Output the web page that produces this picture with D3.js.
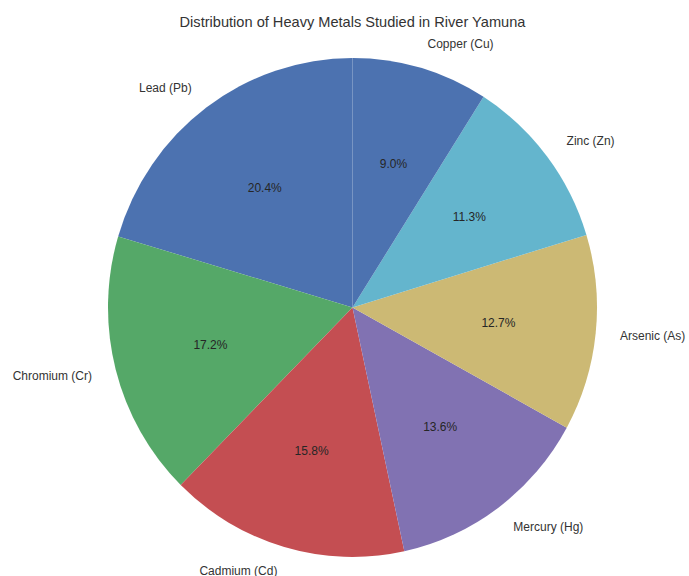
<!DOCTYPE html>
<html>
<head>
<meta charset="utf-8">
<script src="https://cdn.jsdelivr.net/npm/d3@7"></script>
<style>
  html, body { margin: 0; padding: 0; background: #fff; }
  svg { display: block; font-family: "Liberation Sans", Arial, sans-serif; }
</style>
</head>
<body>
<svg id="chart" width="689" height="576"></svg>
<script>
// Heavy metals share (%), in drawing order (counter-clockwise from 12 o'clock)
const metals = ["Lead (Pb)", "Chromium (Cr)", "Cadmium (Cd)", "Mercury (Hg)", "Arsenic (As)", "Zinc (Zn)", "Copper (Cu)"];
const shares = [20.4, 17.2, 15.8, 13.6, 12.7, 11.3, 9.0];
const palette = ["#4C72B0", "#55A868", "#C44E52", "#8172B2", "#CCB974", "#64B5CD", "#4C72B0"];
const chartTitle = "Distribution of Heavy Metals Studied in River Yamuna";

const svg = d3.select("#chart");
const cx = 352.5, cy = 307.5;
const rx = 244.5, ry = 249.5;

svg.append("text")
  .attr("x", 352.5).attr("y", 21.5)
  .attr("text-anchor", "middle")
  .attr("dominant-baseline", "central")
  .attr("font-size", 14.6)
  .attr("fill", "#333")
  .text(chartTitle);

const data = metals.map((m, i) => ({ name: m, value: shares[i], color: palette[i] }));

// Counter-clockwise pie starting at the top
const pie = d3.pie().value(d => d.value).sort(null).startAngle(0).endAngle(-2 * Math.PI);
const arcs = pie(data);
const arc = d3.arc().innerRadius(0).outerRadius(rx);

const g = svg.append("g")
  .attr("transform", `translate(${cx},${cy}) scale(1,${ry / rx})`);

g.selectAll("path")
  .data(arcs)
  .join("path")
  .attr("d", arc)
  .attr("fill", d => d.data.color);

function pos(d, k) {
  const a = (d.startAngle + d.endAngle) / 2;
  return [cx + Math.sin(a) * rx * k, cy - Math.cos(a) * ry * k];
}

// Category labels outside the wedges
svg.selectAll("text.lbl")
  .data(arcs)
  .join("text")
  .attr("class", "lbl")
  .attr("x", d => pos(d, 1.1)[0])
  .attr("y", d => pos(d, 1.1)[1])
  .attr("text-anchor", d => pos(d, 1.1)[0] > cx ? "start" : "end")
  .attr("dominant-baseline", "central")
  .attr("font-size", 12)
  .attr("fill", "#333")
  .text(d => d.data.name);

// Percentage labels inside the wedges
svg.selectAll("text.pct")
  .data(arcs)
  .join("text")
  .attr("class", "pct")
  .attr("x", d => pos(d, 0.6)[0])
  .attr("y", d => pos(d, 0.6)[1])
  .attr("text-anchor", "middle")
  .attr("dominant-baseline", "central")
  .attr("font-size", 12)
  .attr("fill", "#262626")
  .text(d => d.data.value.toFixed(1) + "%");
</script>
</body>
</html>
